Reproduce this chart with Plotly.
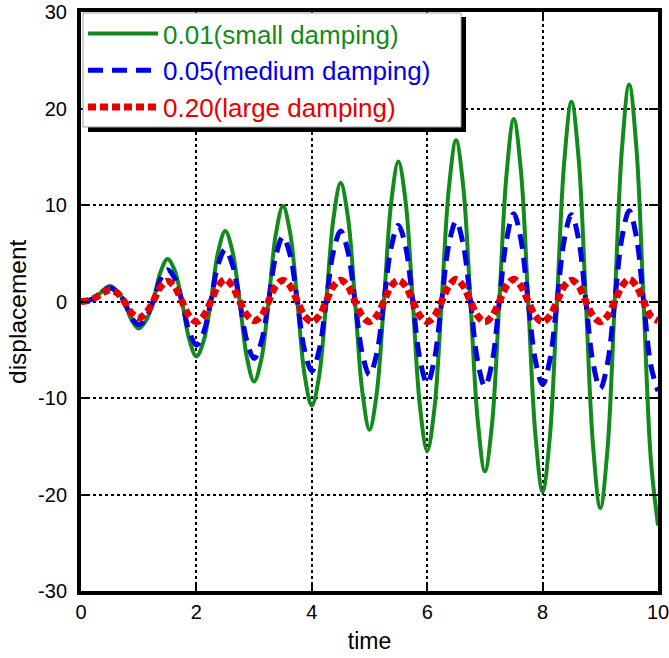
import plotly.graph_objects as go

# time samples (eighth periods)
time = [0.0, 0.125, 0.25, 0.375, 0.5, 0.625, 0.75, 0.875,
        1.0, 1.125, 1.25, 1.375, 1.5, 1.625, 1.75, 1.875,
        2.0, 2.125, 2.25, 2.375, 2.5, 2.625, 2.75, 2.875,
        3.0, 3.125, 3.25, 3.375, 3.5, 3.625, 3.75, 3.875,
        4.0, 4.125, 4.25, 4.375, 4.5, 4.625, 4.75, 4.875,
        5.0, 5.125, 5.25, 5.375, 5.5, 5.625, 5.75, 5.875,
        6.0, 6.125, 6.25, 6.375, 6.5, 6.625, 6.75, 6.875,
        7.0, 7.125, 7.25, 7.375, 7.5, 7.625, 7.75, 7.875,
        8.0, 8.125, 8.25, 8.375, 8.5, 8.625, 8.75, 8.875,
        9.0, 9.125, 9.25, 9.375, 9.5, 9.625, 9.75, 9.875,
        10.0]

small_damping = [0, 0.1, 0.4, 1.1, 1.6, 1.1, 0, -1.9,
                 -2.8, -2.0, 0, 3.0, 4.4, 3.2, 0, -3.9,
                 -5.7, -4.1, 0, 5.1, 7.3, 5.2, 0, -5.8,
                 -8.3, -6.0, 0, 6.9, 9.9, 7.1, 0, -7.6,
                 -10.8, -7.8, 0, 8.6, 12.3, 8.8, 0, -9.3,
                 -13.3, -9.5, 0, 10.2, 14.5, 10.4, 0, -10.9,
                 -15.5, -11.1, 0, 11.7, 16.7, 11.9, 0, -12.3,
                 -17.6, -12.6, 0, 13.2, 18.9, 13.5, 0, -13.8,
                 -19.7, -14.1, 0, 14.5, 20.7, 14.8, 0, -15.0,
                 -21.4, -15.3, 0, 15.8, 22.5, 16.0, 0, -16.3,
                 -23.2]

medium_damping = [0, 0.1, 0.4, 1.0, 1.4, 1.0, 0, -1.7,
                  -2.4, -1.7, 0, 2.3, 3.3, 2.4, 0, -3.1,
                  -4.5, -3.2, 0, 3.8, 5.4, 3.8, 0, -4.1,
                  -5.9, -4.2, 0, 4.7, 6.7, 4.8, 0, -5.1,
                  -7.2, -5.1, 0, 5.2, 7.3, 5.2, 0, -5.4,
                  -7.6, -5.4, 0, 5.6, 7.9, 5.7, 0, -6.0,
                  -8.5, -6.0, 0, 5.9, 8.3, 5.9, 0, -6.2,
                  -8.8, -6.3, 0, 6.4, 9.1, 6.4, 0, -6.1,
                  -8.6, -6.1, 0, 6.4, 9.0, 6.4, 0, -6.4,
                  -9.0, -6.4, 0, 6.6, 9.4, 6.7, 0, -6.6,
                  -9.3]

large_damping = [0, 0.1, 0.4, 0.9, 1.2, 0.9, 0, -1.2,
                 -1.7, -1.2, 0, 1.5, 2.1, 1.5, 0, -1.5,
                 -2.1, -1.5, 0, 1.6, 2.3, 1.6, 0, -1.4,
                 -2.0, -1.5, 0, 1.6, 2.2, 1.6, 0, -1.5,
                 -2.1, -1.5, 0, 1.6, 2.2, 1.6, 0, -1.5,
                 -2.1, -1.5, 0, 1.6, 2.2, 1.6, 0, -1.5,
                 -2.1, -1.5, 0, 1.6, 2.3, 1.6, 0, -1.5,
                 -2.1, -1.5, 0, 1.6, 2.3, 1.6, 0, -1.5,
                 -2.1, -1.5, 0, 1.6, 2.2, 1.6, 0, -1.5,
                 -2.1, -1.5, 0, 1.6, 2.3, 1.6, 0, -1.5,
                 -2.0]

names = ["0.01(small damping)", "0.05(medium damping)", "0.20(large damping)"]
colors = ["#128a1c", "#0000e6", "#e60000"]

x_ticks = [0, 2, 4, 6, 8, 10]
y_ticks = [-30, -20, -10, 0, 10, 20, 30]

FONT = "Liberation Sans, Arial, sans-serif"

fig = go.Figure()
series = [small_damping, medium_damping, large_damping]
widths = [4, 5, 7]
dashes = ["solid", "15px,9px", "8px,4px"]
for vals, nm, col, w, d in zip(series, names, colors, widths, dashes):
    fig.add_trace(go.Scatter(
        x=time, y=vals, mode="lines",
        name=f"<span style='color:{col}'>{nm}</span>",
        line=dict(color=col, width=w, dash=d, shape="spline", smoothing=1.0),
    ))

# legend frame (white box with grey border and black drop shadow)
W, H = 577.0, 579.0
def px_x(p):
    return (p - 81) / W
def px_y(p):
    return (591 - p) / H

fig.add_shape(type="rect", xref="paper", yref="paper",
              x0=px_x(88), x1=px_x(466), y0=px_y(132), y1=px_y(17),
              fillcolor="black", line=dict(width=0), layer="above")
fig.add_shape(type="rect", xref="paper", yref="paper",
              x0=px_x(83), x1=px_x(461), y0=px_y(127), y1=px_y(13),
              fillcolor="white", line=dict(color="#a0a0a0", width=1), layer="above")

axis_common = dict(
    showline=True, linecolor="black", linewidth=4, mirror="allticks",
    ticks="inside", ticklen=9, tickwidth=2, tickcolor="black",
    showgrid=True, gridcolor="black", gridwidth=2, griddash="3px,3px",
    zeroline=False, automargin=False, ticklabeloverflow="allow",
    tickfont=dict(family=FONT, size=20, color="black"),
)

fig.update_xaxes(range=[0, 10], tickvals=x_ticks, ticktext=[str(v) for v in x_ticks],
                 title=dict(text="time", font=dict(family=FONT, size=23, color="black"), standoff=12),
                 **axis_common)
fig.update_yaxes(range=[-30, 30], tickvals=y_ticks, ticktext=[str(v) for v in y_ticks],
                 ticklabelstandoff=6,
                 **axis_common)

fig.add_annotation(text="displacement", xref="paper", yref="paper",
                   x=px_x(17), y=px_y(312), xanchor="center", yanchor="middle",
                   textangle=-90, showarrow=False,
                   font=dict(family=FONT, size=24.5, color="black"))

fig.update_layout(
    width=669, height=658,
    margin=dict(l=81, r=11, t=12, b=67, autoexpand=False),
    plot_bgcolor="white", paper_bgcolor="white",
    font=dict(family=FONT, color="black"),
    showlegend=True,
    legend=dict(x=px_x(83), y=px_y(10), xanchor="left", yanchor="top",
                bgcolor="rgba(0,0,0,0)", borderwidth=0,
                font=dict(family=FONT, size=26), itemwidth=70,
                tracegroupgap=0),
)

fig.write_html("out.html")
